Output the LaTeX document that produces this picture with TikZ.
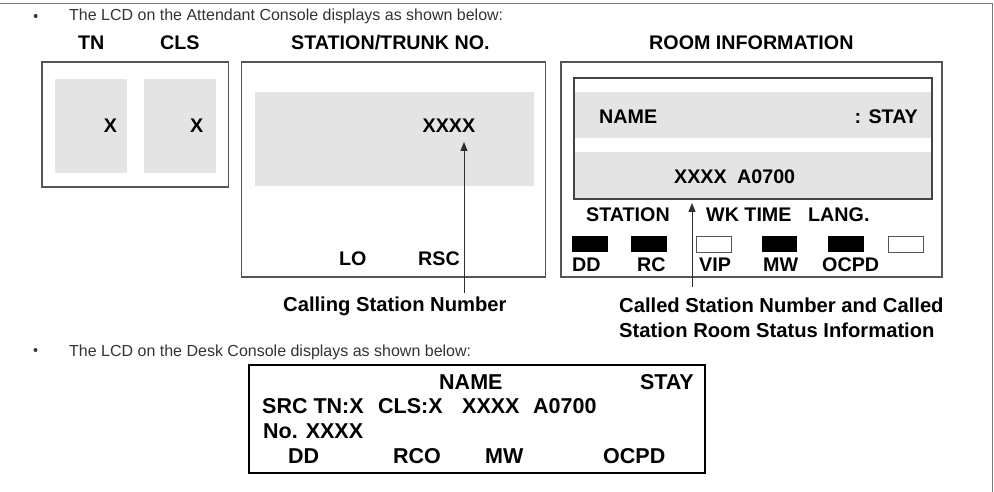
\documentclass[tikz,border=0pt]{standalone}
\usepackage{fontspec}
\setmainfont{Liberation Sans}
\usetikzlibrary{arrows.meta}
\definecolor{lcdgray}{HTML}{E4E4E4}
\definecolor{txtgray}{HTML}{333333}
\definecolor{boxgray}{HTML}{555555}
\definecolor{framegray}{HTML}{7A7A7A}
\begin{document}
\begin{tikzpicture}[x=1pt,y=-1pt,
  lbl/.style={anchor=base west,inner sep=0pt,font=\fontsize{19.7}{22}\selectfont\bfseries},
  lblr/.style={lbl,anchor=base east},
  big/.style={lbl,font=\fontsize{20.2}{23}\selectfont\bfseries},
  desk/.style={anchor=base west,inner sep=0pt,font=\fontsize{21.5}{24}\selectfont\bfseries},
  deskr/.style={desk,anchor=base east},
  intro/.style={anchor=base west,inner sep=0pt,text=txtgray,font=\fontsize{16}{19}\selectfont},
  bulletdot/.style={circle,fill=txtgray,inner sep=0pt,minimum size=4pt},
  panel/.style={draw=boxgray,line width=1.3pt},
  lcd/.style={fill=lcdgray},
  led/.style={fill=black},
  ledoff/.style={draw=boxgray,line width=1pt,fill=white},
  pointer/.style={draw=txtgray!90!black,line width=1pt,-{Triangle[length=9pt,width=7pt]}}
]
\useasboundingbox (0,0) rectangle (994,492);
% outer frame (top and right only)
\draw[framegray,line width=1.5pt] (0,3.5) -- (992.5,3.5) -- (992.5,492);

% intro lines
\node[bulletdot] (b1) at (35.7,16) {};
\node[intro] (t1) at (69,21) {The LCD on the Attendant Console displays as shown below:};
\node[bulletdot] (b2) at (35.5,350) {};
\node[intro] (t2) at (69,356) {The LCD on the Desk Console displays as shown below:};

% headers
\node[lbl] (hTN) at (78,50) {TN};
\node[lbl] (hCLS) at (160,50) {CLS};
\node[lbl] (hST) at (291,50) {STATION/TRUNK NO.};
\node[lbl] (hRI) at (649,50) {ROOM INFORMATION};

% box 1: TN / CLS
\draw[panel] (42,62) rectangle (228.6,187);
\fill[lcd] (54.6,79) rectangle (126.8,173);
\fill[lcd] (144,79) rectangle (216,173);
\node[lbl] (xTN) at (103.6,133) {X};
\node[lbl] (xCLS) at (190,133) {X};

% box 2: station / trunk
\draw[panel] (241.8,62) rectangle (545.7,277);
\fill[lcd] (255,92) rectangle (534,186);
\node[lbl] (xST) at (422.5,133) {XXXX};
\node[lbl] (lo) at (339,265) {LO};
\node[lbl] (rsc) at (418,265) {RSC};
\node[big] (calling) at (283,311) {Calling Station Number};
\coordinate (a1from) at (464,293);
\coordinate (a1to) at (464,142);
\draw[pointer] (a1from) -- (a1to);

% box 3: room information
\draw[panel] (561,62) rectangle (942,277);
\fill[lcd] (574,92) rectangle (932,138);
\fill[lcd] (574,152) rectangle (932,199);
\draw[draw=boxgray!80!black,line width=1.3pt] (574,78) rectangle (932,199);
\node[lbl] (rname) at (599,124) {NAME};
\node[lblr] (rstay) at (918,124) {: STAY};
\node[lbl] (rnum) at (674,183) {XXXX\hspace{10.4pt}A0700};
\node[lbl] (rstation) at (586,222) {STATION};
\node[lbl] (rwk) at (706,222) {WK TIME};
\node[lbl] (rlang) at (808,222) {LANG.};
\fill[led] (572,236) rectangle (608,252);
\fill[led] (631,236) rectangle (667,252);
\draw[ledoff] (696,236) rectangle (731,252);
\fill[led] (762,236) rectangle (797,252);
\fill[led] (828,236) rectangle (864,252);
\draw[ledoff] (888,236) rectangle (923,252);
\node[lbl] (rdd) at (572,271) {DD};
\node[lbl] (rrc) at (637,271) {RC};
\node[lbl] (rvip) at (699,271) {VIP};
\node[lbl] (rmw) at (763,271) {MW};
\node[lbl] (rocpd) at (822,271) {OCPD};
\node[big] (called1) at (619,312) {Called Station Number and Called};
\node[big] (called2) at (619,337) {Station Room Status Information};
\coordinate (a2from) at (692,287);
\coordinate (a2to) at (692,203);
\draw[pointer] (a2from) -- (a2to);

% desk console
\draw[black,line width=2pt] (249,365) rectangle (705,473);
\node[desk] (dname) at (439,389) {NAME};
\node[deskr] (dstay) at (694,389) {STAY};
\node[desk] (dsrc) at (262,413) {SRC TN:X};
\node[desk] (dcls) at (378,413) {CLS:X};
\node[desk] (dnum) at (462,413) {XXXX};
\node[desk] (droom) at (533,413) {A0700};
\node[desk] (dno) at (263,438) {No. XXXX};
\node[desk] (ddd) at (288,463) {DD};
\node[desk] (drco) at (393,463) {RCO};
\node[desk] (dmw) at (485,463) {MW};
\node[desk] (docpd) at (603,463) {OCPD};
\end{tikzpicture}
\end{document}
